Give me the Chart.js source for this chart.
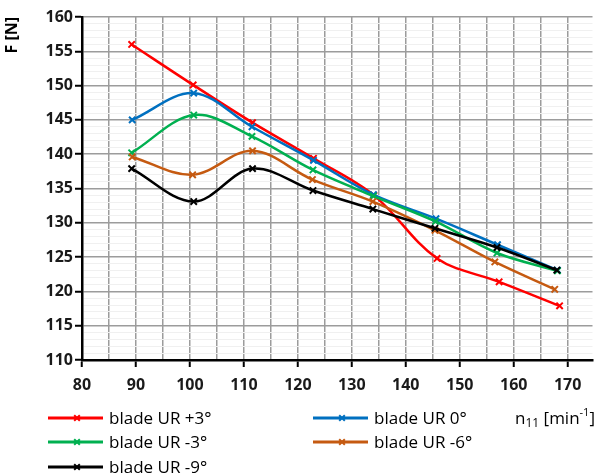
<!DOCTYPE html>
<html>
<head>
<meta charset="utf-8">
<script src="https://cdn.jsdelivr.net/npm/chart.js@4/dist/chart.umd.min.js"></script>
<style>
  html, body { margin: 0; padding: 0; background: #fff; }
  #wrap { position: relative; width: 599px; height: 475px; }
</style>
</head>
<body>
<div id="wrap"><canvas id="chart" width="599" height="475"></canvas></div>
<script>
// Unit speed n11 [min^-1] and axial force F [N] for each blade setting
const seriesLabels = ['blade UR +3°', 'blade UR 0°', 'blade UR -3°', 'blade UR -6°', 'blade UR -9°'];
const seriesColors = ['#ff0000', '#0070c0', '#00b050', '#c55a11', '#000000'];

const n11Plus3  = [89.2, 100.6, 111.6, 122.9, 134.1, 145.8, 157.3, 168.5];
const fPlus3    = [156.0, 150.1, 144.6, 139.4, 134.0, 124.8, 121.4, 117.9];

const n11Zero   = [89.3, 100.7, 111.5, 122.9, 134.0, 145.6, 157.0, 168.1];
const fZero     = [145.0, 148.9, 144.0, 139.1, 134.1, 130.6, 126.8, 123.1];

const n11Minus3 = [89.2, 100.7, 111.5, 122.8, 134.0, 145.5, 156.9, 168.1];
const fMinus3   = [140.2, 145.7, 142.6, 137.7, 133.9, 130.2, 125.6, 123.0];

const n11Minus6 = [89.3, 100.5, 111.6, 122.7, 133.9, 145.4, 156.5, 167.6];
const fMinus6   = [139.6, 137.0, 140.5, 136.3, 133.1, 128.9, 124.3, 120.3];

const n11Minus9 = [89.2, 100.7, 111.6, 122.8, 133.9, 145.4, 156.9, 168.0];
const fMinus9   = [137.9, 133.1, 137.9, 134.7, 132.0, 129.2, 126.4, 123.1];

const xTickLabels = [80, 90, 100, 110, 120, 130, 140, 150, 160, 170];
const yTickLabels = [110, 115, 120, 125, 130, 135, 140, 145, 150, 155, 160];

const xSeries = [n11Plus3, n11Zero, n11Minus3, n11Minus6, n11Minus9];
const ySeries = [fPlus3, fZero, fMinus3, fMinus6, fMinus9];

const FONT = "'Open Sans', 'DejaVu Sans', sans-serif";

const datasets = seriesLabels.map((label, i) => ({
  label,
  data: xSeries[i].map((x, k) => ({ x, y: ySeries[i][k] })),
  borderColor: seriesColors[i],
  backgroundColor: seriesColors[i],
  borderWidth: 2.5,
  pointStyle: 'crossRot',
  pointRadius: 4.5,
  pointBorderWidth: 2,
  pointHoverRadius: 4.5,
  showLine: true,
  tension: 0.35,
  order: seriesLabels.length - i
}));

// Legend rows and the n11 unit caption under the plot
const legendPlugin = {
  id: 'bottomLegend',
  afterDraw(chart) {
    const ctx = chart.ctx;
    const slots = [
      { x: 48, y: 418 }, { x: 313, y: 418 },
      { x: 48, y: 442 }, { x: 313, y: 442 },
      { x: 48, y: 467 }
    ];
    ctx.save();
    chart.data.datasets.forEach((ds, i) => {
      const s = slots[i];
      ctx.strokeStyle = ds.borderColor;
      ctx.lineWidth = 3;
      ctx.beginPath();
      ctx.moveTo(s.x, s.y);
      ctx.lineTo(s.x + 55, s.y);
      ctx.stroke();
      ctx.lineWidth = 2;
      Chart.helpers.drawPoint(ctx, { pointStyle: 'crossRot', radius: 4, borderWidth: 2, rotation: 0 }, s.x + 29, s.y);
      ctx.fillStyle = '#000';
      ctx.font = '17px ' + FONT;
      ctx.textBaseline = 'middle';
      ctx.textAlign = 'left';
      ctx.fillText(ds.label, s.x + 61, s.y + 1);
    });

    // n11 [min-1]
    let x = 515;
    const y = 419;
    ctx.fillStyle = '#000';
    ctx.textBaseline = 'middle';
    ctx.font = '17px ' + FONT;
    ctx.fillText('n', x, y); x += ctx.measureText('n').width;
    ctx.font = '12px ' + FONT;
    ctx.fillText('11', x, y + 5); x += ctx.measureText('11').width;
    ctx.font = '17px ' + FONT;
    ctx.fillText(' [min', x, y); x += ctx.measureText(' [min').width;
    ctx.font = '11px ' + FONT;
    ctx.fillText('-1', x, y - 6); x += ctx.measureText('-1').width;
    ctx.font = '17px ' + FONT;
    ctx.fillText(']', x, y);
    ctx.restore();
  }
};

new Chart(document.getElementById('chart'), {
  type: 'scatter',
  data: { datasets },
  plugins: [legendPlugin],
  options: {
    responsive: false,
    animation: false,
    events: [],
    layout: { padding: { top: 17, left: 0, right: 0, bottom: 0 } },
    plugins: {
      legend: { display: false },
      tooltip: { enabled: false }
    },
    scales: {
      x: {
        type: 'linear',
        min: 80,
        max: 174.6,
        afterFit(scale) { scale.height = 115; },
        border: { color: '#000', width: 2.5 },
        grid: {
          color: '#9c9c9c',
          lineWidth: 1.5,
          tickLength: 7,
          tickWidth: 2,
          tickColor: (c) => (c.tick && xTickLabels.includes(c.tick.value)) ? '#000' : 'rgba(0,0,0,0)'
        },
        ticks: {
          stepSize: 5,
          includeBounds: false,
          autoSkip: false,
          maxRotation: 0,
          padding: 9,
          color: '#1a1a1a',
          font: { family: FONT, size: 16, weight: 'bold' },
          callback: (v) => xTickLabels.includes(v) ? String(v) : ''
        }
      },
      y: {
        type: 'linear',
        min: 110,
        max: 160,
        afterFit(scale) { scale.width = 82; },
        border: { color: '#000', width: 2.5 },
        grid: {
          color: (c) => (c.tick && yTickLabels.includes(c.tick.value)) ? '#9c9c9c' : '#f0f0f0',
          lineWidth: (c) => (c.tick && yTickLabels.includes(c.tick.value)) ? 1.5 : 1,
          tickLength: 7,
          tickWidth: 2,
          tickColor: (c) => (c.tick && yTickLabels.includes(c.tick.value)) ? '#000' : 'rgba(0,0,0,0)'
        },
        ticks: {
          stepSize: 1,
          autoSkip: false,
          padding: 2,
          color: '#1a1a1a',
          font: { family: FONT, size: 16, weight: 'bold' },
          callback: (v) => yTickLabels.includes(v) ? String(v) : ''
        },
        title: {
          display: true,
          text: 'F [N]',
          align: 'end',
          color: '#000',
          padding: { top: 3, bottom: 0 },
          font: { family: FONT, size: 16, weight: 'bold' }
        }
      }
    }
  }
});
</script>
</body>
</html>
